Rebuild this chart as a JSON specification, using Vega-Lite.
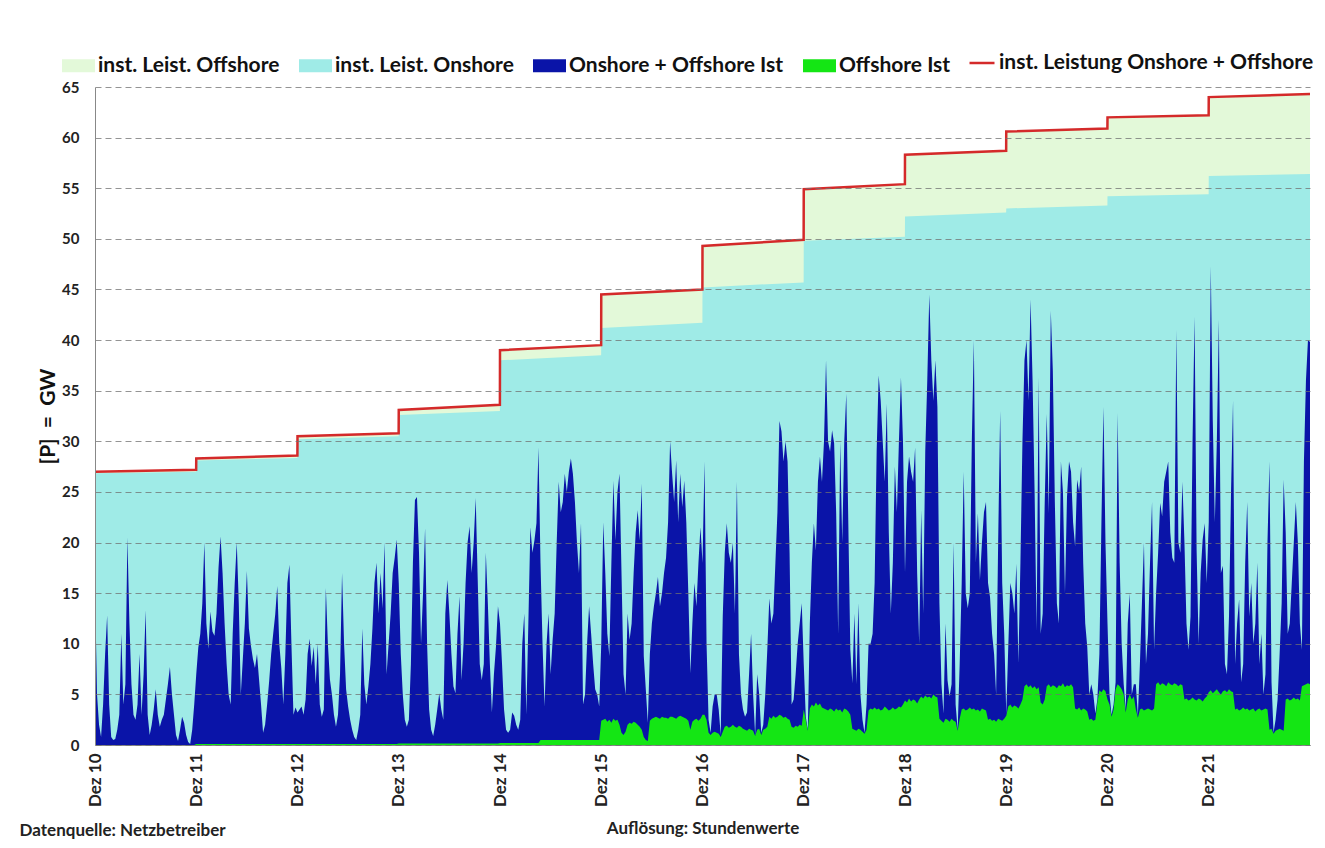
{
"$schema": "https://vega.github.io/schema/vega-lite/v6.json",
"width": 1215, "height": 658,
"autosize": {"type": "none"},
"padding": {"left": 95, "top": 87, "right": 15, "bottom": 103},
"background": "white",
"datasets": {
"cap": [
{"t":0,"total":27.0,"on":26.85},{"t":0.999,"total":27.2,"on":27.0},
{"t":1,"total":28.3,"on":28.1},{"t":1.999,"total":28.6,"on":28.35},
{"t":2,"total":30.5,"on":30.2},{"t":2.999,"total":30.8,"on":30.5},
{"t":3,"total":33.1,"on":32.6},{"t":3.999,"total":33.6,"on":33.0},
{"t":4,"total":39.0,"on":38.0},{"t":4.999,"total":39.5,"on":38.5},
{"t":5,"total":44.5,"on":41.2},{"t":5.999,"total":45.0,"on":41.7},
{"t":6,"total":49.3,"on":45.2},{"t":6.999,"total":49.9,"on":45.7},
{"t":7,"total":54.9,"on":49.8},{"t":7.999,"total":55.4,"on":50.2},
{"t":8,"total":58.3,"on":52.2},{"t":8.999,"total":58.7,"on":52.6},
{"t":9,"total":60.6,"on":53.0},{"t":9.999,"total":60.9,"on":53.3},
{"t":10,"total":62.0,"on":54.2},{"t":10.999,"total":62.2,"on":54.4},
{"t":11,"total":64.0,"on":56.2},{"t":12,"total":64.3,"on":56.4}
],
"ist": [
{"t":0,"a":15.5,"o":0},{"t":0.02,"a":5,"o":0},{"t":0.04,"a":2,"o":0},{"t":0.06,"a":0.8,"o":0},{"t":0.08,"a":4,"o":0},{"t":0.1,"a":9,"o":0},{"t":0.12,"a":12.8,"o":0},{"t":0.14,"a":4,"o":0},{"t":0.16,"a":0.8,"o":0},{"t":0.18,"a":0.5,"o":0},{"t":0.2,"a":0.6,"o":0},{"t":0.22,"a":1.5,"o":0},{"t":0.24,"a":3,"o":0},{"t":0.26,"a":11,"o":0},{"t":0.28,"a":4,"o":0},{"t":0.3,"a":6,"o":0},{"t":0.32,"a":20.5,"o":0},{"t":0.34,"a":12,"o":0},{"t":0.36,"a":6,"o":0},{"t":0.38,"a":3,"o":0},{"t":0.4,"a":2.5,"o":0},{"t":0.42,"a":4,"o":0},{"t":0.44,"a":9,"o":0},{"t":0.46,"a":3,"o":0},{"t":0.48,"a":7,"o":0},{"t":0.5,"a":13.3,"o":0},{"t":0.52,"a":3,"o":0},{"t":0.54,"a":1,"o":0},{"t":0.56,"a":2,"o":0},{"t":0.58,"a":3.5,"o":0},{"t":0.6,"a":5.5,"o":0},{"t":0.62,"a":3,"o":0},{"t":0.64,"a":1.8,"o":0},{"t":0.66,"a":2.5,"o":0},{"t":0.68,"a":3,"o":0},{"t":0.7,"a":4.5,"o":0},{"t":0.72,"a":6,"o":0},{"t":0.74,"a":7.7,"o":0},{"t":0.76,"a":5,"o":0},{"t":0.78,"a":3,"o":0},{"t":0.8,"a":1,"o":0},{"t":0.82,"a":0.4,"o":0},{"t":0.84,"a":1.5,"o":0},{"t":0.86,"a":2.8,"o":0},{"t":0.88,"a":2.2,"o":0},{"t":0.9,"a":1,"o":0},{"t":0.92,"a":0.3,"o":0},{"t":0.94,"a":0.1,"o":0},{"t":0.96,"a":1.5,"o":0},{"t":0.98,"a":4,"o":0},
{"t":1,"a":7,"o":0.1},{"t":1.02,"a":9.6,"o":0.1},{"t":1.04,"a":11,"o":0.1},{"t":1.06,"a":14,"o":0.1},{"t":1.08,"a":20,"o":0.1},{"t":1.1,"a":12,"o":0.1},{"t":1.12,"a":9.5,"o":0.1},{"t":1.14,"a":13.2,"o":0.1},{"t":1.16,"a":11.2,"o":0.1},{"t":1.18,"a":10.8,"o":0.1},{"t":1.2,"a":13,"o":0.1},{"t":1.22,"a":17.5,"o":0.1},{"t":1.24,"a":20.6,"o":0.1},{"t":1.26,"a":17,"o":0.1},{"t":1.28,"a":12,"o":0.1},{"t":1.3,"a":8,"o":0.1},{"t":1.32,"a":5,"o":0.1},{"t":1.34,"a":4,"o":0.1},{"t":1.36,"a":11,"o":0.1},{"t":1.38,"a":16,"o":0.1},{"t":1.4,"a":20,"o":0.1},{"t":1.42,"a":14,"o":0.1},{"t":1.44,"a":5,"o":0.1},{"t":1.46,"a":8.5,"o":0.1},{"t":1.48,"a":12,"o":0.1},{"t":1.5,"a":17.2,"o":0.1},{"t":1.52,"a":11.5,"o":0.1},{"t":1.54,"a":9.8,"o":0.1},{"t":1.56,"a":8.5,"o":0.1},{"t":1.58,"a":7.6,"o":0.1},{"t":1.6,"a":9,"o":0.1},{"t":1.62,"a":6.5,"o":0.1},{"t":1.64,"a":4,"o":0.1},{"t":1.66,"a":1.2,"o":0.1},{"t":1.68,"a":2,"o":0.1},{"t":1.7,"a":4,"o":0.1},{"t":1.72,"a":6.3,"o":0.1},{"t":1.74,"a":9,"o":0.1},{"t":1.76,"a":11,"o":0.1},{"t":1.78,"a":12.9,"o":0.1},{"t":1.8,"a":15.7,"o":0.1},{"t":1.82,"a":10,"o":0.1},{"t":1.84,"a":7.6,"o":0.1},{"t":1.86,"a":4,"o":0.1},{"t":1.88,"a":9,"o":0.1},{"t":1.9,"a":16,"o":0.1},{"t":1.92,"a":17.8,"o":0.1},{"t":1.94,"a":10,"o":0.1},{"t":1.96,"a":3,"o":0.1},{"t":1.98,"a":3.7,"o":0.1},
{"t":2,"a":3.2,"o":0.1},{"t":2.02,"a":3.5,"o":0.1},{"t":2.04,"a":3.8,"o":0.1},{"t":2.06,"a":3,"o":0.1},{"t":2.08,"a":4.5,"o":0.1},{"t":2.1,"a":9,"o":0.1},{"t":2.12,"a":10.5,"o":0.1},{"t":2.14,"a":7.8,"o":0.1},{"t":2.16,"a":9.7,"o":0.1},{"t":2.18,"a":6,"o":0.1},{"t":2.2,"a":10,"o":0.1},{"t":2.22,"a":4,"o":0.1},{"t":2.24,"a":2.8,"o":0.1},{"t":2.26,"a":3.5,"o":0.1},{"t":2.28,"a":15.5,"o":0.1},{"t":2.3,"a":10,"o":0.1},{"t":2.32,"a":6.5,"o":0.1},{"t":2.34,"a":5,"o":0.1},{"t":2.36,"a":3,"o":0.1},{"t":2.38,"a":1.8,"o":0.1},{"t":2.4,"a":3,"o":0.1},{"t":2.42,"a":7,"o":0.1},{"t":2.44,"a":17,"o":0.1},{"t":2.46,"a":10,"o":0.1},{"t":2.48,"a":5.5,"o":0.1},{"t":2.5,"a":3.8,"o":0.1},{"t":2.52,"a":2.5,"o":0.1},{"t":2.54,"a":1.5,"o":0.1},{"t":2.56,"a":0.8,"o":0.1},{"t":2.58,"a":0.5,"o":0.1},{"t":2.6,"a":1.5,"o":0.1},{"t":2.62,"a":3,"o":0.1},{"t":2.64,"a":11.5,"o":0.1},{"t":2.66,"a":6,"o":0.1},{"t":2.68,"a":4,"o":0.1},{"t":2.7,"a":5.8,"o":0.1},{"t":2.72,"a":8,"o":0.1},{"t":2.74,"a":11.5,"o":0.1},{"t":2.76,"a":16,"o":0.1},{"t":2.78,"a":18,"o":0.1},{"t":2.8,"a":13,"o":0.1},{"t":2.82,"a":17,"o":0.1},{"t":2.84,"a":13.5,"o":0.1},{"t":2.86,"a":20,"o":0.1},{"t":2.88,"a":7,"o":0.1},{"t":2.9,"a":10,"o":0.1},{"t":2.92,"a":13,"o":0.1},{"t":2.94,"a":17,"o":0.1},{"t":2.96,"a":18.5,"o":0.1},{"t":2.98,"a":20.3,"o":0.1},
{"t":3,"a":16,"o":0.15},{"t":3.02,"a":9,"o":0.15},{"t":3.04,"a":5,"o":0.15},{"t":3.06,"a":2.5,"o":0.15},{"t":3.08,"a":1.8,"o":0.15},{"t":3.1,"a":2.5,"o":0.15},{"t":3.12,"a":8,"o":0.15},{"t":3.14,"a":18,"o":0.15},{"t":3.16,"a":24.2,"o":0.15},{"t":3.18,"a":24.5,"o":0.15},{"t":3.2,"a":19,"o":0.15},{"t":3.22,"a":10,"o":0.15},{"t":3.24,"a":15,"o":0.15},{"t":3.26,"a":21.4,"o":0.15},{"t":3.28,"a":10,"o":0.15},{"t":3.3,"a":3.5,"o":0.15},{"t":3.32,"a":1.5,"o":0.15},{"t":3.34,"a":0.9,"o":0.15},{"t":3.36,"a":2,"o":0.15},{"t":3.38,"a":3.5,"o":0.15},{"t":3.4,"a":5.1,"o":0.15},{"t":3.42,"a":3.5,"o":0.15},{"t":3.44,"a":2.5,"o":0.15},{"t":3.46,"a":13,"o":0.15},{"t":3.48,"a":16.3,"o":0.15},{"t":3.5,"a":13,"o":0.15},{"t":3.52,"a":9,"o":0.15},{"t":3.54,"a":5.8,"o":0.15},{"t":3.56,"a":5.1,"o":0.15},{"t":3.58,"a":11,"o":0.15},{"t":3.6,"a":14.7,"o":0.15},{"t":3.62,"a":6.4,"o":0.15},{"t":3.64,"a":10,"o":0.15},{"t":3.66,"a":16,"o":0.15},{"t":3.68,"a":20,"o":0.15},{"t":3.7,"a":21.6,"o":0.15},{"t":3.72,"a":17,"o":0.15},{"t":3.74,"a":20,"o":0.15},{"t":3.76,"a":24.4,"o":0.15},{"t":3.78,"a":16.3,"o":0.15},{"t":3.8,"a":8,"o":0.15},{"t":3.82,"a":6.4,"o":0.15},{"t":3.84,"a":8,"o":0.15},{"t":3.86,"a":19,"o":0.15},{"t":3.88,"a":14,"o":0.15},{"t":3.9,"a":8,"o":0.15},{"t":3.92,"a":3.2,"o":0.15},{"t":3.94,"a":7,"o":0.15},{"t":3.96,"a":9.7,"o":0.15},{"t":3.98,"a":13.7,"o":0.15},
{"t":4,"a":12,"o":0.2},{"t":4.02,"a":8,"o":0.2},{"t":4.04,"a":3.5,"o":0.2},{"t":4.06,"a":1.5,"o":0.2},{"t":4.08,"a":1.2,"o":0.2},{"t":4.1,"a":1.5,"o":0.2},{"t":4.12,"a":3.2,"o":0.2},{"t":4.14,"a":2.9,"o":0.2},{"t":4.16,"a":2,"o":0.2},{"t":4.18,"a":1.5,"o":0.2},{"t":4.2,"a":2.5,"o":0.2},{"t":4.22,"a":10,"o":0.2},{"t":4.24,"a":13,"o":0.2},{"t":4.26,"a":3,"o":0.2},{"t":4.28,"a":12,"o":0.2},{"t":4.3,"a":21.5,"o":0.2},{"t":4.32,"a":19,"o":0.2},{"t":4.34,"a":20.2,"o":0.2},{"t":4.36,"a":21.9,"o":0.2},{"t":4.38,"a":29.4,"o":0.2},{"t":4.4,"a":18,"o":0.5},{"t":4.42,"a":10,"o":0.5},{"t":4.44,"a":3.8,"o":0.5},{"t":4.46,"a":10,"o":0.5},{"t":4.48,"a":13,"o":0.5},{"t":4.5,"a":7,"o":0.5},{"t":4.52,"a":10.4,"o":0.5},{"t":4.54,"a":13,"o":0.5},{"t":4.56,"a":20,"o":0.5},{"t":4.58,"a":26,"o":0.5},{"t":4.6,"a":23,"o":0.5},{"t":4.62,"a":24,"o":0.5},{"t":4.64,"a":26.8,"o":0.5},{"t":4.66,"a":25,"o":0.5},{"t":4.68,"a":27,"o":0.5},{"t":4.7,"a":28.3,"o":0.5},{"t":4.72,"a":26.8,"o":0.5},{"t":4.74,"a":24,"o":0.5},{"t":4.76,"a":20,"o":0.5},{"t":4.78,"a":17,"o":0.5},{"t":4.8,"a":21.9,"o":0.5},{"t":4.82,"a":4,"o":0.5},{"t":4.84,"a":5,"o":0.5},{"t":4.86,"a":10,"o":0.5},{"t":4.88,"a":13.7,"o":0.5},{"t":4.9,"a":11,"o":0.5},{"t":4.92,"a":8,"o":0.5},{"t":4.94,"a":5.5,"o":0.5},{"t":4.96,"a":5,"o":0.5},{"t":4.98,"a":3.8,"o":0.5},
{"t":5,"a":10,"o":2.4},{"t":5.02,"a":22,"o":2.5},{"t":5.04,"a":17,"o":2.6},{"t":5.06,"a":11,"o":2.3},{"t":5.08,"a":8.8,"o":2.5},{"t":5.1,"a":18,"o":2.2},{"t":5.12,"a":26.1,"o":2.6},{"t":5.14,"a":20.2,"o":2.4},{"t":5.16,"a":25,"o":2.5},{"t":5.18,"a":26.8,"o":2},{"t":5.2,"a":17,"o":1.2},{"t":5.22,"a":7,"o":1},{"t":5.24,"a":5,"o":1.3},{"t":5.26,"a":13,"o":2},{"t":5.28,"a":10.4,"o":2.2},{"t":5.3,"a":12,"o":2.1},{"t":5.32,"a":17,"o":2.3},{"t":5.34,"a":21,"o":2.2},{"t":5.36,"a":23.2,"o":2},{"t":5.38,"a":20.2,"o":1.8},{"t":5.4,"a":25.8,"o":1.5},{"t":5.42,"a":8.8,"o":0.8},{"t":5.44,"a":5.5,"o":0.5},{"t":5.46,"a":2.2,"o":0.4},{"t":5.48,"a":9,"o":2.4},{"t":5.5,"a":12,"o":2.6},{"t":5.52,"a":13.7,"o":2.7},{"t":5.54,"a":15,"o":2.8},{"t":5.56,"a":16.6,"o":2.7},{"t":5.58,"a":13.7,"o":2.6},{"t":5.6,"a":15,"o":2.8},{"t":5.62,"a":17,"o":2.7},{"t":5.64,"a":18.5,"o":2.7},{"t":5.66,"a":22,"o":2.6},{"t":5.68,"a":30,"o":2.8},{"t":5.7,"a":26.8,"o":2.8},{"t":5.72,"a":24,"o":2.7},{"t":5.74,"a":28.1,"o":2.6},{"t":5.76,"a":22,"o":2.8},{"t":5.78,"a":26.8,"o":2.9},{"t":5.8,"a":23.5,"o":2.8},{"t":5.82,"a":26.1,"o":2.7},{"t":5.84,"a":22,"o":2.6},{"t":5.86,"a":15,"o":2.4},{"t":5.88,"a":7.1,"o":1.5},{"t":5.9,"a":12,"o":2.3},{"t":5.92,"a":16,"o":2.5},{"t":5.94,"a":13.7,"o":2.6},{"t":5.96,"a":18,"o":2.4},{"t":5.98,"a":21.5,"o":2.6},
{"t":6,"a":18,"o":3},{"t":6.02,"a":28,"o":3},{"t":6.04,"a":10,"o":2.5},{"t":6.06,"a":2.5,"o":1.2},{"t":6.08,"a":1.2,"o":1},{"t":6.1,"a":3.8,"o":1.2},{"t":6.12,"a":5,"o":1.3},{"t":6.14,"a":5,"o":1.2},{"t":6.16,"a":3.5,"o":1.1},{"t":6.18,"a":1,"o":0.8},{"t":6.2,"a":12.7,"o":1.3},{"t":6.22,"a":19,"o":1.8},{"t":6.24,"a":21.9,"o":1.9},{"t":6.26,"a":19,"o":1.7},{"t":6.28,"a":18,"o":1.8},{"t":6.3,"a":20,"o":2},{"t":6.32,"a":13,"o":1.8},{"t":6.34,"a":26,"o":1.7},{"t":6.36,"a":9,"o":1.9},{"t":6.38,"a":5,"o":1.8},{"t":6.4,"a":3.5,"o":1.6},{"t":6.42,"a":2.8,"o":1.5},{"t":6.44,"a":3.2,"o":1.4},{"t":6.46,"a":7,"o":1.6},{"t":6.48,"a":11,"o":1.5},{"t":6.5,"a":5,"o":1.4},{"t":6.52,"a":1,"o":0.9},{"t":6.54,"a":7,"o":1.5},{"t":6.56,"a":5,"o":1.6},{"t":6.58,"a":1.2,"o":1},{"t":6.6,"a":2,"o":1.5},{"t":6.62,"a":5,"o":1.6},{"t":6.64,"a":9.4,"o":1.8},{"t":6.66,"a":14.5,"o":2.8},{"t":6.68,"a":12,"o":2.6},{"t":6.7,"a":13,"o":2.9},{"t":6.72,"a":18,"o":2.7},{"t":6.74,"a":23,"o":2.8},{"t":6.76,"a":32,"o":3},{"t":6.78,"a":31,"o":2.9},{"t":6.8,"a":28,"o":2.7},{"t":6.82,"a":30,"o":2.8},{"t":6.84,"a":28,"o":2.6},{"t":6.86,"a":19,"o":2.5},{"t":6.88,"a":4,"o":1.8},{"t":6.9,"a":4.5,"o":1.7},{"t":6.92,"a":7,"o":1.9},{"t":6.94,"a":10,"o":1.8},{"t":6.96,"a":12,"o":2},{"t":6.98,"a":14,"o":1.9},
{"t":7,"a":8,"o":3.5},{"t":7.02,"a":2.8,"o":2.5},{"t":7.04,"a":1.5,"o":1.4},{"t":7.06,"a":12,"o":3.6},{"t":7.08,"a":18,"o":4},{"t":7.1,"a":21.9,"o":3.8},{"t":7.12,"a":19.2,"o":4.2},{"t":7.14,"a":26,"o":3.9},{"t":7.16,"a":28.5,"o":4.1},{"t":7.18,"a":26,"o":3.7},{"t":7.2,"a":30,"o":3.6},{"t":7.22,"a":38,"o":3.5},{"t":7.24,"a":30,"o":3.4},{"t":7.26,"a":29,"o":3.6},{"t":7.28,"a":31.1,"o":3.5},{"t":7.3,"a":29.8,"o":3.3},{"t":7.32,"a":23,"o":3.6},{"t":7.34,"a":11,"o":3.4},{"t":7.36,"a":30,"o":3.5},{"t":7.38,"a":20,"o":3.2},{"t":7.4,"a":30,"o":3.6},{"t":7.42,"a":34.7,"o":3.5},{"t":7.44,"a":22,"o":3.3},{"t":7.46,"a":9.4,"o":3},{"t":7.48,"a":6.1,"o":1.6},{"t":7.5,"a":13,"o":1.5},{"t":7.52,"a":6,"o":1.4},{"t":7.54,"a":14,"o":1.6},{"t":7.56,"a":5,"o":1.5},{"t":7.58,"a":2.5,"o":1.3},{"t":7.6,"a":1.2,"o":1.1},{"t":7.62,"a":4,"o":1.5},{"t":7.64,"a":10,"o":3.4},{"t":7.66,"a":10,"o":3.6},{"t":7.68,"a":11,"o":3.5},{"t":7.7,"a":16,"o":3.7},{"t":7.72,"a":29,"o":3.5},{"t":7.74,"a":36.5,"o":3.6},{"t":7.76,"a":34,"o":3.4},{"t":7.78,"a":30,"o":3.5},{"t":7.8,"a":26,"o":3.8},{"t":7.82,"a":33.7,"o":3.6},{"t":7.84,"a":21,"o":3.4},{"t":7.86,"a":13,"o":3.5},{"t":7.88,"a":18,"o":3.7},{"t":7.9,"a":27.5,"o":3.5},{"t":7.92,"a":23,"o":3.6},{"t":7.94,"a":30,"o":3.8},{"t":7.96,"a":36.3,"o":3.7},{"t":7.98,"a":30,"o":4},
{"t":8,"a":17,"o":4.4},{"t":8.02,"a":26,"o":4.2},{"t":8.04,"a":28.5,"o":4.6},{"t":8.06,"a":27,"o":4.3},{"t":8.08,"a":26,"o":4.5},{"t":8.1,"a":29.4,"o":4.4},{"t":8.12,"a":17,"o":4.1},{"t":8.14,"a":10,"o":4.5},{"t":8.16,"a":23.2,"o":4.8},{"t":8.18,"a":13,"o":4.6},{"t":8.2,"a":29,"o":4.9},{"t":8.22,"a":36,"o":4.7},{"t":8.24,"a":44.5,"o":4.8},{"t":8.26,"a":38,"o":4.6},{"t":8.28,"a":34,"o":5},{"t":8.3,"a":38,"o":4.8},{"t":8.32,"a":33.4,"o":4.7},{"t":8.34,"a":14,"o":2.6},{"t":8.36,"a":6,"o":2.4},{"t":8.38,"a":3.1,"o":2.2},{"t":8.4,"a":12,"o":2.6},{"t":8.42,"a":6.4,"o":2.5},{"t":8.44,"a":4.8,"o":2.3},{"t":8.46,"a":6,"o":2.6},{"t":8.48,"a":20,"o":2.4},{"t":8.5,"a":4,"o":2.3},{"t":8.52,"a":1.5,"o":1.4},{"t":8.54,"a":8,"o":2.6},{"t":8.56,"a":16,"o":3.5},{"t":8.58,"a":27,"o":3.6},{"t":8.6,"a":15,"o":3.4},{"t":8.62,"a":13.5,"o":3.5},{"t":8.64,"a":15,"o":3.7},{"t":8.66,"a":30,"o":3.5},{"t":8.68,"a":40,"o":3.6},{"t":8.7,"a":18,"o":3.4},{"t":8.72,"a":22.9,"o":3.5},{"t":8.74,"a":16.3,"o":3.3},{"t":8.76,"a":20,"o":3.6},{"t":8.78,"a":23,"o":3.5},{"t":8.8,"a":24,"o":3.4},{"t":8.82,"a":16,"o":2.5},{"t":8.84,"a":14.6,"o":2.6},{"t":8.86,"a":11,"o":2.4},{"t":8.88,"a":9,"o":2.5},{"t":8.9,"a":5,"o":2.3},{"t":8.92,"a":20,"o":2.6},{"t":8.94,"a":33,"o":2.5},{"t":8.96,"a":16,"o":2.4},{"t":8.98,"a":11,"o":2.6},
{"t":9,"a":3.1,"o":2.9},{"t":9.02,"a":9.7,"o":3.8},{"t":9.04,"a":16,"o":4},{"t":9.06,"a":15,"o":3.7},{"t":9.08,"a":13,"o":3.9},{"t":9.1,"a":17.9,"o":3.8},{"t":9.12,"a":8.1,"o":3.6},{"t":9.14,"a":18,"o":4},{"t":9.16,"a":30,"o":4.5},{"t":9.18,"a":38,"o":5.8},{"t":9.2,"a":40,"o":6},{"t":9.22,"a":34,"o":5.7},{"t":9.24,"a":44,"o":5.9},{"t":9.26,"a":36,"o":5.6},{"t":9.28,"a":25,"o":5.8},{"t":9.3,"a":11.3,"o":5.5},{"t":9.32,"a":36.3,"o":5.7},{"t":9.34,"a":11,"o":4.2},{"t":9.36,"a":13,"o":4},{"t":9.38,"a":24,"o":4.5},{"t":9.4,"a":32.7,"o":5.8},{"t":9.42,"a":22.9,"o":6},{"t":9.44,"a":42.9,"o":5.7},{"t":9.46,"a":37,"o":5.9},{"t":9.48,"a":24,"o":5.8},{"t":9.5,"a":14,"o":5.6},{"t":9.52,"a":12,"o":5.9},{"t":9.54,"a":28,"o":5.8},{"t":9.56,"a":25,"o":6.1},{"t":9.58,"a":15,"o":5.7},{"t":9.6,"a":24.5,"o":5.9},{"t":9.62,"a":28,"o":5.8},{"t":9.64,"a":27,"o":6},{"t":9.66,"a":22,"o":5.7},{"t":9.68,"a":19.6,"o":3.6},{"t":9.7,"a":26.2,"o":3.5},{"t":9.72,"a":25,"o":3.7},{"t":9.74,"a":27.5,"o":3.4},{"t":9.76,"a":18,"o":3.6},{"t":9.78,"a":12,"o":3.5},{"t":9.8,"a":9.7,"o":3.3},{"t":9.82,"a":5,"o":2.5},{"t":9.84,"a":6,"o":2.6},{"t":9.86,"a":5,"o":2.4},{"t":9.88,"a":3.1,"o":2.5},{"t":9.9,"a":4.5,"o":4.2},{"t":9.92,"a":9,"o":5.4},{"t":9.94,"a":22,"o":5.2},{"t":9.96,"a":33.4,"o":5.5},{"t":9.98,"a":20,"o":5.3},
{"t":10,"a":12,"o":4.5},{"t":10.02,"a":5,"o":4},{"t":10.04,"a":3,"o":2.8},{"t":10.06,"a":4,"o":3.5},{"t":10.08,"a":6.2,"o":5.5},{"t":10.1,"a":32.8,"o":6},{"t":10.12,"a":18,"o":5.8},{"t":10.14,"a":10,"o":5.5},{"t":10.16,"a":6,"o":5},{"t":10.18,"a":3.5,"o":3.2},{"t":10.2,"a":12,"o":4.5},{"t":10.22,"a":15,"o":5},{"t":10.24,"a":5,"o":4.5},{"t":10.26,"a":6,"o":4.8},{"t":10.28,"a":6,"o":3.5},{"t":10.3,"a":2.9,"o":2.7},{"t":10.32,"a":8,"o":3.5},{"t":10.34,"a":14,"o":3.6},{"t":10.36,"a":20,"o":3.4},{"t":10.38,"a":8,"o":3.5},{"t":10.4,"a":11,"o":3.6},{"t":10.42,"a":18,"o":3.5},{"t":10.44,"a":24,"o":3.4},{"t":10.46,"a":9.4,"o":3.6},{"t":10.48,"a":15,"o":6},{"t":10.5,"a":19,"o":6.2},{"t":10.52,"a":23.9,"o":5.9},{"t":10.54,"a":22.6,"o":6.1},{"t":10.56,"a":26,"o":6},{"t":10.58,"a":27,"o":5.8},{"t":10.6,"a":28,"o":6.2},{"t":10.62,"a":21,"o":6},{"t":10.64,"a":18.5,"o":5.9},{"t":10.66,"a":18,"o":6.1},{"t":10.68,"a":41,"o":6},{"t":10.7,"a":20,"o":5.8},{"t":10.72,"a":19,"o":6},{"t":10.74,"a":26,"o":5.9},{"t":10.76,"a":20,"o":4.5},{"t":10.78,"a":12,"o":4.6},{"t":10.8,"a":9.4,"o":4.4},{"t":10.82,"a":12.7,"o":4.5},{"t":10.84,"a":30,"o":4.7},{"t":10.86,"a":42.3,"o":4.5},{"t":10.88,"a":19.3,"o":4.4},{"t":10.9,"a":10,"o":4.6},{"t":10.92,"a":17,"o":4.5},{"t":10.94,"a":20.3,"o":4.3},{"t":10.96,"a":21.9,"o":4.6},{"t":10.98,"a":16,"o":4.8},
{"t":11,"a":22,"o":5.2},{"t":11.02,"a":47.3,"o":5.4},{"t":11.04,"a":32,"o":5.1},{"t":11.06,"a":22,"o":5.3},{"t":11.08,"a":30,"o":5.5},{"t":11.1,"a":42,"o":5.2},{"t":11.12,"a":17,"o":5},{"t":11.14,"a":17.7,"o":5.3},{"t":11.16,"a":8,"o":5.4},{"t":11.18,"a":7,"o":5.2},{"t":11.2,"a":12.7,"o":5.5},{"t":11.22,"a":25,"o":5.3},{"t":11.24,"a":34,"o":5.2},{"t":11.26,"a":8,"o":3.5},{"t":11.28,"a":12,"o":3.6},{"t":11.3,"a":14.4,"o":3.4},{"t":11.32,"a":6.2,"o":3.5},{"t":11.34,"a":8,"o":3.7},{"t":11.36,"a":18,"o":3.5},{"t":11.38,"a":24,"o":3.6},{"t":11.4,"a":12.7,"o":3.4},{"t":11.42,"a":16,"o":3.5},{"t":11.44,"a":10,"o":3.6},{"t":11.46,"a":12,"o":3.3},{"t":11.48,"a":18,"o":3.5},{"t":11.5,"a":8,"o":3.6},{"t":11.52,"a":11,"o":3.4},{"t":11.54,"a":5,"o":3.5},{"t":11.56,"a":7,"o":3.6},{"t":11.58,"a":20,"o":3.5},{"t":11.6,"a":28,"o":1.5},{"t":11.62,"a":6.2,"o":1.6},{"t":11.64,"a":1.2,"o":1.1},{"t":11.66,"a":2.5,"o":1.4},{"t":11.68,"a":4.5,"o":1.5},{"t":11.7,"a":9,"o":1.6},{"t":11.72,"a":14,"o":1.5},{"t":11.74,"a":26.2,"o":1.4},{"t":11.76,"a":21,"o":4.5},{"t":11.78,"a":11,"o":4.6},{"t":11.8,"a":12,"o":4.4},{"t":11.82,"a":16,"o":4.5},{"t":11.84,"a":20,"o":4.7},{"t":11.86,"a":24,"o":4.5},{"t":11.88,"a":20,"o":4.6},{"t":11.9,"a":12,"o":4.4},{"t":11.92,"a":9.4,"o":5.8},{"t":11.94,"a":28,"o":5.9},{"t":11.96,"a":36,"o":6},{"t":11.98,"a":40,"o":6.1},{"t":12,"a":39.8,"o":6}
]
},
"title": {"text": "Datenquelle: Netzbetreiber", "orient": "bottom", "anchor": "start", "frame": "bounds", "font": "Lato", "fontSize": 17, "fontWeight": "bold", "color": "#222222", "offset": -14, "dx": -18},
"encoding": {
"x": {"field": "t", "type": "quantitative", "scale": {"domain": [0, 12], "nice": false, "zero": false},
"axis": {"values": [0,1,2,3,4,5,6,7,8,9,10,11], "labelExpr": "'Dez ' + (datum.value + 10)", "labelAngle": -90, "labelFont": "Lato", "labelFontSize": 17, "labelFontWeight": "bold", "labelColor": "#222222", "ticks": false, "grid": false, "domainColor": "#888888", "labelPadding": 8, "labelFlush": false, "labelOverlap": false, "title": "Auflösung: Stundenwerte", "titleFont": "Lato", "titleFontSize": 17, "titleFontWeight": "bold", "titleColor": "#222222", "titlePadding": 14}}
},
"layer": [
{"data": {"name": "cap"}, "mark": {"type": "area"},
"encoding": {
"y": {"field": "total", "type": "quantitative", "title": "[P]\u00a0\u00a0=\u00a0\u00a0GW", "scale": {"domain": [0, 65], "nice": false},
"axis": {"values": [0,5,10,15,20,25,30,35,40,45,50,55,60,65], "grid": true, "gridDash": [6, 4], "gridColor": "#707070", "gridOpacity": 0.75, "zindex": 1, "ticks": false, "labelFont": "Lato", "labelFontSize": 15, "labelFontWeight": "bold", "labelColor": "#222222", "labelPadding": 16, "domainColor": "#888888", "titleFont": "Lato", "titleFontSize": 21, "titleFontWeight": "bold", "titleColor": "#111111", "titlePadding": 3}},
"color": {"datum": "inst. Leist. Offshore", "type": "nominal",
"scale": {"domain": ["inst. Leist. Offshore", "inst. Leist. Onshore", "Onshore + Offshore Ist", "Offshore Ist"], "range": ["#E3F9D9", "#9FEBE7", "#0A14A8", "#14E614"]},
"legend": {"orient": "none", "legendX": -33, "legendY": -38, "direction": "horizontal", "columns": 4, "title": null, "symbolType": "M-1,-0.4H1V0.4H-1Z", "symbolSize": 1089, "symbolStrokeWidth": 0, "symbolOpacity": 1, "labelFont": "Lato", "labelFontSize": 21, "labelFontWeight": "bold", "labelColor": "#111111", "labelLimit": 0, "columnPadding": 19, "labelOffset": 3}}
}},
{"data": {"name": "cap"}, "mark": {"type": "area"},
"encoding": {"y": {"field": "on", "type": "quantitative", "title": "[P]\u00a0\u00a0=\u00a0\u00a0GW"}, "color": {"datum": "inst. Leist. Onshore", "type": "nominal"}}},
{"data": {"name": "ist"}, "mark": {"type": "area"},
"encoding": {"y": {"field": "a", "type": "quantitative", "title": "[P]\u00a0\u00a0=\u00a0\u00a0GW"}, "color": {"datum": "Onshore + Offshore Ist", "type": "nominal"}}},
{"data": {"name": "ist"}, "mark": {"type": "area"},
"encoding": {"y": {"field": "o", "type": "quantitative", "title": "[P]\u00a0\u00a0=\u00a0\u00a0GW"}, "color": {"datum": "Offshore Ist", "type": "nominal"}}},
{"data": {"name": "cap"}, "mark": {"type": "line", "strokeWidth": 2.5},
"encoding": {"y": {"field": "total", "type": "quantitative", "title": "[P]\u00a0\u00a0=\u00a0\u00a0GW"},
"stroke": {"datum": "inst. Leistung Onshore + Offshore", "type": "nominal",
"scale": {"domain": ["inst. Leistung Onshore + Offshore"], "range": ["#D42A2A"]},
"legend": {"orient": "none", "legendX": 873, "legendY": -38, "title": null, "symbolType": "stroke", "symbolSize": 625, "symbolStrokeWidth": 2.5, "labelFont": "Lato", "labelFontSize": 21, "labelFontWeight": "bold", "labelColor": "#111111", "labelLimit": 0, "labelOffset": 3}}}}
],
"config": {"view": {"stroke": null}, "font": "Lato"}
}
